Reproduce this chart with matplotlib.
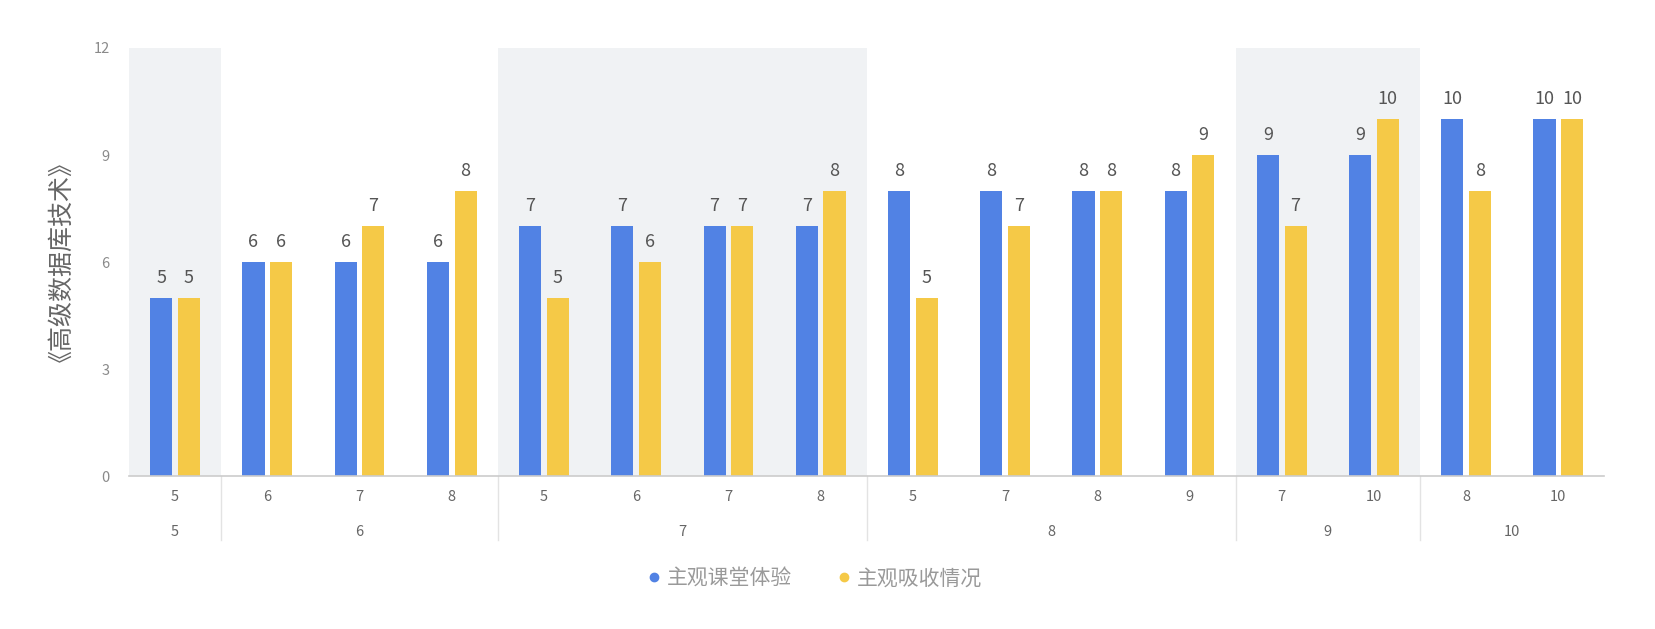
import numpy as np
import matplotlib.pyplot as plt
from matplotlib import transforms
from matplotlib.lines import Line2D

plt.rcParams['font.family'] = ['Noto Sans CJK SC', 'DejaVu Sans']

# данные
outer = [5, 6, 6, 6, 7, 7, 7, 7, 8, 8, 8, 8, 9, 9, 10, 10]
inner = [5, 6, 7, 8, 5, 6, 7, 8, 5, 7, 8, 9, 7, 10, 8, 10]
ketang = [5, 6, 6, 6, 7, 7, 7, 7, 8, 8, 8, 8, 9, 9, 10, 10]
xishou = [5, 6, 7, 8, 5, 6, 7, 8, 5, 7, 8, 9, 7, 10, 8, 10]
series_names = ['主观课堂体验', '主观吸收情况']
y_title = '《高级数据库技术》'

blue = '#5182E4'
yellow = '#F5C947'

fig = plt.figure(figsize=(16.56, 6.29), dpi=100)
ax = fig.add_axes([0.0779, 0.2432, 0.891, 0.6805])

n = len(outer)
x = np.arange(n) + 0.5
w = 0.24
gap = 0.03

# группы внешнего уровня
groups = []
start = 0
for i in range(1, n + 1):
    if i == n or outer[i] != outer[start]:
        groups.append((outer[start], start, i))
        start = i

# серый фон через одну группу
for k, (val, a, b) in enumerate(groups):
    if k % 2 == 0:
        ax.axvspan(a, b, color='#F0F2F4', zorder=0, lw=0)

b1 = ax.bar(x - w / 2 - gap, ketang, w, color=blue, zorder=2)
b2 = ax.bar(x + w / 2 + gap, xishou, w, color=yellow, zorder=2)
for bars in (b1, b2):
    ax.bar_label(bars, padding=8, fontsize=13, color='#555555')

ax.set_xlim(0, n)
ax.set_ylim(0, 12)
ax.set_yticks([0, 3, 6, 9, 12])
ax.tick_params(axis='y', length=0, labelsize=10.5, colors='#8a8a8a', pad=14)
ax.set_xticks(x)
ax.set_xticklabels([str(v) for v in inner])
ax.tick_params(axis='x', length=0, labelsize=10.5, colors='#666666', pad=10)

for s in ['top', 'right', 'left']:
    ax.spines[s].set_visible(False)
ax.spines['bottom'].set_color('#cccccc')
ax.spines['bottom'].set_linewidth(1.2)

trans = transforms.blended_transform_factory(ax.transData, ax.transAxes)
for k, (val, a, b) in enumerate(groups):
    ax.text((a + b) / 2, -0.13, str(val), transform=trans, ha='center', va='center',
            fontsize=10.5, color='#666666')
    if a > 0:
        ax.plot([a, a], [0, -0.15], transform=trans, color='#e3e3e3', lw=1, clip_on=False)

ax.set_ylabel(y_title, fontsize=18, color='#666666')
ax.yaxis.set_label_coords(-0.045, 0.53)

handles = [Line2D([], [], marker='o', ls='', markersize=6, color=c) for c in (blue, yellow)]
ax.legend(handles, series_names, loc='upper center', bbox_to_anchor=(0.465, -0.17), ncol=2,
          frameon=False, handlelength=0.6, handletextpad=0.3, columnspacing=2.2,
          prop={'size': 15}, labelcolor='#999999')

fig.savefig('out.png', dpi=100)
